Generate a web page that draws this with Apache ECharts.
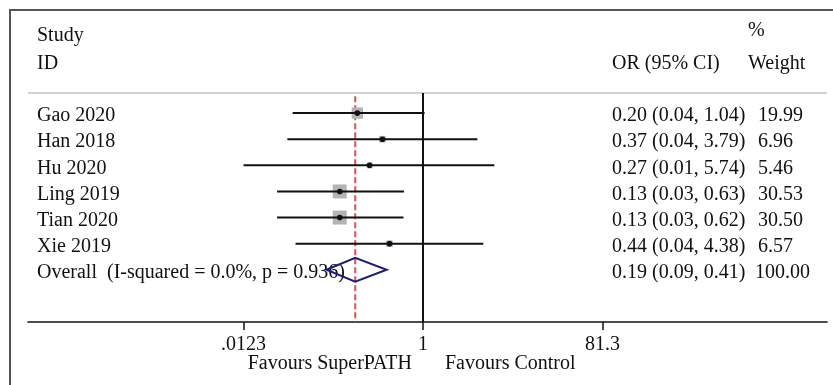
<!DOCTYPE html>
<html>
<head>
<meta charset="utf-8" />
<title>Forest plot</title>
<script src="https://cdn.jsdelivr.net/npm/echarts@6/dist/echarts.min.js"></script>
<style>
	html, body { margin: 0; padding: 0; background: #fff; }
	#main { width: 833px; height: 385px; }
</style>
</head>
<body>
<div id="main"></div>
<script>
// study rows
var studies = ['Gao 2020', 'Han 2018', 'Hu 2020', 'Ling 2019', 'Tian 2020', 'Xie 2019'];
var orValues = [0.20, 0.37, 0.27, 0.13, 0.13, 0.44];
var ciLower = [0.041, 0.036, 0.01, 0.028, 0.028, 0.044];
var ciUpper = [1.04, 3.79, 5.74, 0.627, 0.62, 4.38];
var weights = [19.99, 6.96, 5.46, 30.53, 30.50, 6.57];

// pooled estimate
var overallLabel = 'Overall  (I-squared = 0.0%, p = 0.936)';
var overallOR = [0.19, 0.094, 0.41];
var overallWeight = 100;

// x axis
var tickValues = [0.0123, 1, 81.3];
var tickLabels = ['.0123', '1', '81.3'];

var FONT = '20px "Liberation Serif", "Times New Roman", serif';
var TEXT_DY = 3;
var ln = Math.log;
var clipLo = ln(tickValues[0]), clipHi = ln(tickValues[2]);

var studyData = studies.map(function (s, i) {
	return [ln(orValues[i]), i + 1, ln(ciLower[i]), ln(ciUpper[i]), weights[i]];
});
var overallRow = studies.length + 1;

var chart = echarts.init(document.getElementById('main'), null, { renderer: 'canvas' });

var option = {
	animation: false,
	grid: { left: 28, right: 6, top: 87, bottom: 63 },
	xAxis: {
		type: 'value',
		position: 'bottom',
		min: -9.679,
		max: 9.899,
		splitLine: { show: false },
		axisLine: { show: true, onZero: false, lineStyle: { color: '#111', width: 1.6 } },
		axisTick: {
			show: true, length: 8, lineStyle: { color: '#111', width: 1.5 },
			customValues: tickValues.map(ln)
		},
		axisLabel: {
			margin: 13,
			customValues: tickValues.map(ln),
			color: '#111',
			fontFamily: '"Liberation Serif", serif',
			fontSize: 20,
			formatter: function (v) {
				for (var i = 0; i < tickValues.length; i++) {
					if (Math.abs(ln(tickValues[i]) - v) < 1e-6) return tickLabels[i];
				}
				return '';
			}
		}
	},
	yAxis: {
		type: 'value', inverse: true, min: 0, max: 9, show: false
	},
	series: [
		{
			// header rule, null line, pooled-effect dashed line
			type: 'custom',
			z: 3,
			data: [[0]],
			renderItem: function (params, api) {
				var cs = params.coordSys;
				var hy = api.coord([0, 0.23])[1];
				var nullTop = api.coord([0, 0.23]);
				var nullBot = api.coord([0, 9]);
				var dTop = api.coord([ln(overallOR[0]), 0.35]);
				var dBot = api.coord([ln(overallOR[0]), 9]);
				return {
					type: 'group',
					children: [
						{ type: 'line', shape: { x1: cs.x, y1: hy, x2: cs.x + cs.width, y2: hy },
							style: { stroke: '#c4c4c4', lineWidth: 1.5 } },
						{ type: 'line', shape: { x1: nullTop[0], y1: nullTop[1], x2: nullBot[0], y2: nullBot[1] },
							style: { stroke: '#111', lineWidth: 2 } },
						{ type: 'line', shape: { x1: dTop[0], y1: dTop[1], x2: dBot[0], y2: dBot[1] },
							style: { stroke: '#d9534f', lineWidth: 2, lineDash: [6, 3] } }
					]
				};
			}
		},
		{
			type: 'custom',
			z: 5,
			data: studyData,
			renderItem: function (params, api) {
				var x = api.value(0), row = api.value(1);
				var lo = Math.max(api.value(2), clipLo), hi = Math.min(api.value(3), clipHi);
				var p = api.coord([x, row]);
				var a = api.coord([lo, row]);
				var b = api.coord([hi, row]);
				var side = 2.53 * Math.sqrt(api.value(4));
				return {
					type: 'group',
					children: [
						{ type: 'rect', shape: { x: p[0] - side / 2, y: p[1] - side / 2, width: side, height: side },
							style: { fill: '#b4b4b4' } },
						{ type: 'line', shape: { x1: a[0], y1: a[1], x2: b[0], y2: b[1] },
							style: { stroke: '#111', lineWidth: 2 } },
						{ type: 'circle', shape: { cx: p[0], cy: p[1], r: 2.8 },
							style: { fill: '#111' } }
					]
				};
			}
		},
		{
			type: 'custom',
			z: 6,
			data: [[ln(overallOR[0]), overallRow, ln(overallOR[1]), ln(overallOR[2])]],
			renderItem: function (params, api) {
				var row = api.value(1);
				var c = api.coord([api.value(0), row]);
				var l = api.coord([api.value(2), row]);
				var r = api.coord([api.value(3), row]);
				var h = 12;
				return {
					type: 'polygon',
					shape: { points: [[l[0], c[1]], [c[0], c[1] - h], [r[0], c[1]], [c[0], c[1] + h]] },
					style: { fill: 'none', stroke: '#1c1c7a', lineWidth: 2 }
				};
			}
		}
	]
};
chart.setOption(option);

function txt(s, x, y, align) {
	return { type: 'text', z: 1, x: x, y: y + TEXT_DY,
		style: { text: s, font: FONT, fill: '#111', align: align || 'left', verticalAlign: 'middle' } };
}

function rowY(r) { return chart.convertToPixel({ yAxisIndex: 0 }, r); }

var texts = [
	txt('Study', 37, 33), txt('ID', 37, 61),
	txt('OR (95% CI)', 612, 61), txt('%', 748, 28), txt('Weight', 748, 61),
	txt('Favours SuperPATH', 412, 361, 'right'), txt('Favours Control', 445, 361)
];
studies.forEach(function (s, i) {
	var y = rowY(i + 1);
	texts.push(txt(s, 37, y));
	texts.push(txt(orValues[i].toFixed(2) + ' (' + ciLower[i].toFixed(2) + ', ' + ciUpper[i].toFixed(2) + ')', 612, y));
	texts.push(txt(weights[i].toFixed(2), 758, y));
});
var oy = rowY(overallRow);
texts.push(txt(overallLabel, 37, oy));
texts.push(txt(overallOR[0].toFixed(2) + ' (' + overallOR[1].toFixed(2) + ', ' + overallOR[2].toFixed(2) + ')', 612, oy));
texts.push(txt(overallWeight.toFixed(2), 755, oy));

// frame (left and top edges only)
texts.push({ type: 'line', z: 1, shape: { x1: 10, y1: 10, x2: 10, y2: 385 }, style: { stroke: '#555', lineWidth: 2 } });
texts.push({ type: 'line', z: 1, shape: { x1: 9, y1: 10, x2: 833, y2: 10 }, style: { stroke: '#555', lineWidth: 2 } });

chart.setOption({ graphic: texts });
</script>
</body>
</html>
